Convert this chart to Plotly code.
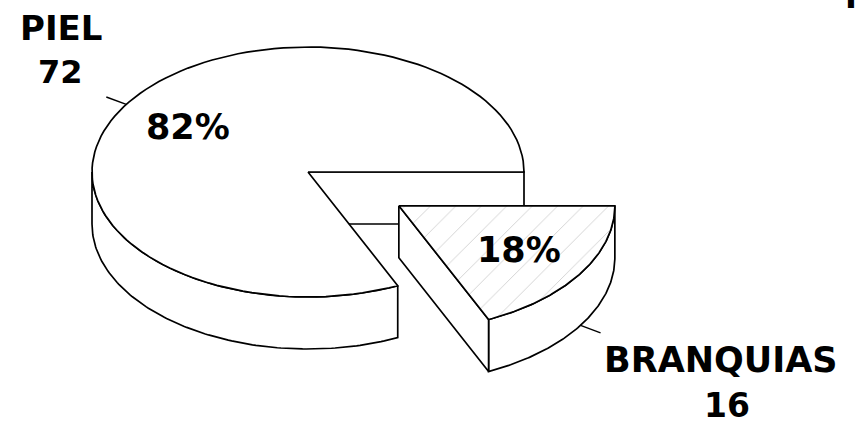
import numpy as np
import plotly.graph_objects as go

# ---- data ----
categories = ["PIEL", "BRANQUIAS"]
values = [72, 16]
corner_mark = "F"

# ---- layout constants (pixels) ----
W, H = 857, 426
CX, CY = 308, 172       # centre of the main pie's top ellipse
RX, RY = 216, 125       # ellipse radii
DEPTH = 52              # thickness of the pie
PULL = 0.5              # explode distance (fraction of radius)
LINE = dict(color="black", width=1.7)
FONT = "DejaVu Sans"

total = sum(values)
fracs = [v / total for v in values]
pcts = [f"{round(100 * f)}%" for f in fracs]
span_b = 360.0 * fracs[1]          # BRANQUIAS wedge: from 0 (east) clockwise
ranges = {"BRANQUIAS": (0.0, span_b), "PIEL": (span_b, 360.0)}


def ell(t_deg, cx, cy, r=1.0, dz=0.0):
    t = np.radians(t_deg)
    return cx + r * RX * np.cos(t), cy + r * RY * np.sin(t) + dz


def arc(a0, a1, cx, cy, dz=0.0, n=120):
    ts = np.linspace(a0, a1, n)
    x, y = ell(ts, cx, cy, 1.0, dz)
    return list(x), list(y)


fig = go.Figure()


def poly(xs, ys, pattern=None):
    xs = list(xs) + [xs[0]]
    ys = list(ys) + [ys[0]]
    kw = {}
    if pattern:
        kw["fillpattern"] = pattern
    fig.add_trace(go.Scatter(x=xs, y=ys, mode="lines", fill="toself",
                             fillcolor="white", line=LINE, hoverinfo="skip",
                             showlegend=False, **kw))


# ---------- main slice (PIEL) ----------
a0, a1 = ranges["PIEL"]
# outer wall, front-visible part
tx, ty = arc(a0, 180, CX, CY)
bx, by = arc(180, a0, CX, CY, DEPTH)
poly(tx + bx, ty + by)
# cut face along the 360deg edge (faces the viewer)
ex, ey = ell(a1, CX, CY)
poly([CX, ex, ex, CX], [CY, ey, ey + DEPTH, CY + DEPTH])
# top face
tx, ty = arc(a0, a1, CX, CY)
poly([CX] + tx, [CY] + ty)

# ---------- exploded slice (BRANQUIAS) ----------
b0, b1 = ranges["BRANQUIAS"]
mid_b = (b0 + b1) / 2
ecx, ecy = ell(mid_b, CX, CY, PULL)
# outer wall
tx, ty = arc(b0, b1, ecx, ecy)
bx, by = arc(b1, b0, ecx, ecy, DEPTH)
poly(tx + bx, ty + by)
# cut face along the far edge (faces the viewer)
px, py = ell(b1, ecx, ecy)
poly([ecx, px, px, ecx], [ecy, py, py + DEPTH, ecy + DEPTH])
# top face with light hatching
tx, ty = arc(b0, b1, ecx, ecy)
poly([ecx] + tx, [ecy] + ty,
     pattern=dict(shape="/", fgcolor="#a0a0a0", bgcolor="white",
                  size=18, solidity=0.05))

# ---------- leader ticks ----------
mid_p = (a0 + a1) / 2
lx0, ly0 = ell(mid_p, CX, CY, 1.0)
lx1, ly1 = ell(mid_p, CX, CY, 1.11)
fig.add_trace(go.Scatter(x=[lx0, lx1], y=[ly0, ly1], mode="lines",
                         line=dict(color="black", width=1.4),
                         hoverinfo="skip", showlegend=False))
gx0, gy0 = ell(mid_b, ecx, ecy, 1.0, DEPTH)
gx1, gy1 = ell(mid_b, ecx, ecy, 1.11, DEPTH)
fig.add_trace(go.Scatter(x=[gx0, gx1], y=[gy0, gy1], mode="lines",
                         line=dict(color="black", width=1.4),
                         hoverinfo="skip", showlegend=False))

# ---------- text ----------
def txt(x, y, s, size, xanchor="center"):
    fig.add_annotation(x=x, y=y, xref="x", yref="y", text=f"<b>{s}</b>",
                       showarrow=False, xanchor=xanchor, yanchor="middle",
                       font=dict(family=FONT, size=size, color="black"))


# percentages inside the slices
qx, qy = ell(mid_p, CX, CY, 0.66)
txt(qx, qy, pcts[0], 35)
rx_, ry_ = ell(mid_b, ecx, ecy, 0.66)
txt(rx_, ry_, pcts[1], 35)

# category names and counts
txt(61, 28, categories[0], 34)
txt(60, 72, str(values[0]), 32)
txt(721, 360, categories[1], 35)
txt(727, 405, str(values[1]), 33)

# clipped corner mark at the page edge
fig.add_annotation(x=843 / W, y=1 - 18 / H, xref="paper", yref="paper",
                   text=f"<b>{corner_mark}</b>", showarrow=False,
                   xanchor="left", yanchor="bottom",
                   font=dict(family=FONT, size=32, color="black"))

fig.update_xaxes(range=[0, W], visible=False, fixedrange=True)
fig.update_yaxes(range=[H, 0], visible=False, fixedrange=True)
fig.update_layout(width=W, height=H, margin=dict(l=0, r=0, t=0, b=0),
                  paper_bgcolor="white", plot_bgcolor="white",
                  showlegend=False)

fig.write_html("out.html")
